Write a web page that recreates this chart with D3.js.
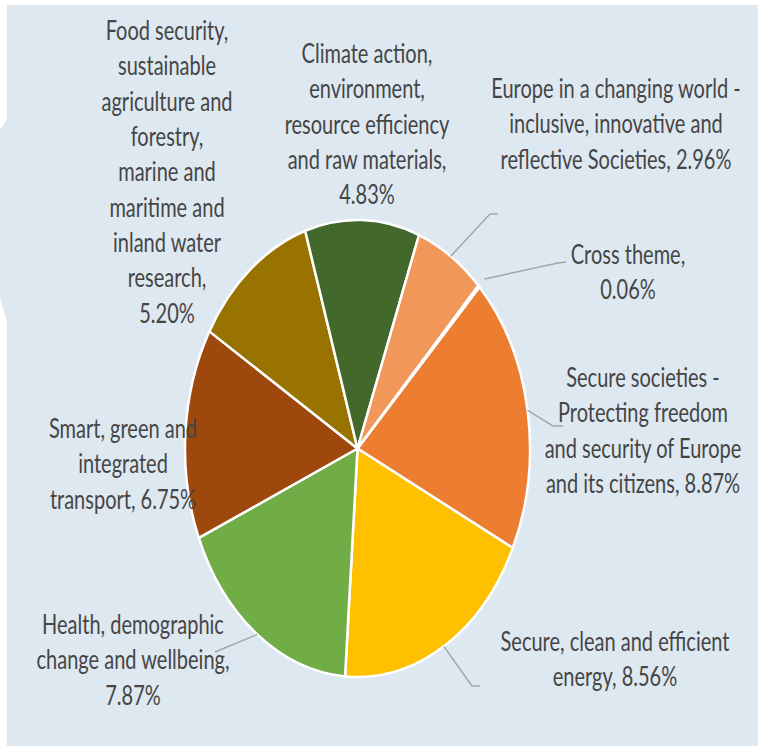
<!DOCTYPE html>
<html>
<head>
<meta charset="utf-8">
<script src="https://cdn.jsdelivr.net/npm/d3@7"></script>
<style>
  body { margin: 0; background: #fff; }
  svg { display: block; }
  text { font-family: Lato, "Noto Sans", sans-serif; fill: #454545; }
</style>
</head>
<body>
<svg id="chart"></svg>
<script>
const width = 760;
const height = 749;

// slices in clockwise order, starting from the first slice angle
const themes = [
    "Secure societies - Protecting freedom and security of Europe and its citizens",
    "Secure, clean and efficient energy",
    "Health, demographic change and wellbeing",
    "Smart, green and integrated transport",
    "Food security, sustainable agriculture and forestry, marine and maritime and inland water research",
    "Climate action, environment, resource efficiency and raw materials",
    "Europe in a changing world - inclusive, innovative and reflective Societies",
    "Cross theme"
];
const shares = [8.87, 8.56, 7.87, 6.75, 5.20, 4.83, 2.96, 0.06];
const colors = ["#ed7d31", "#ffc000", "#70ad47", "#9e480e", "#997300", "#43682b", "#f1975a", "#ffcd33"];

// label text as wrapped in the chart
const labelLines = [
    ["Secure societies -", "Protecting freedom", "and security of Europe", "and its citizens, 8.87%"],
    ["Secure, clean and efficient", "energy, 8.56%"],
    ["Health, demographic", "change and wellbeing,", "7.87%"],
    ["Smart, green and", "integrated", "transport, 6.75%"],
    ["Food security,", "sustainable", "agriculture and", "forestry,", "marine and", "maritime and", "inland water", "research,", "5.20%"],
    ["Climate action,", "environment,", "resource efficiency", "and raw materials,", "4.83%"],
    ["Europe in a changing world -", "inclusive, innovative and", "reflective Societies, 2.96%"],
    ["Cross theme,", "0.06%"]
];

// label layout: centre x, first line y
const labelPos = [[643, 377], [615, 641], [133, 624], [123, 428], [167, 30], [367, 53], [616, 88], [628, 254]];
// leader line elbows (null = no leader)
const leaderEnds = [
    [[553, 426], [563, 426]],
    [[472, 686], [480, 686]],
    [[215, 652]],
    null, null, null,
    [[490, 214], [498, 214]],
    [[558, 263], [566, 262]]
];

const cx = 357.5, cy = 448.5, rx = 172.5, ry = 228.5;
const sy = ry / rx;
const lineGap = 35.3;

const svg = d3.select("#chart")
    .attr("width", width)
    .attr("height", height);

// panel background with the little notch on the left edge
svg.append("path")
    .attr("d", "M7,5 L758,5 L758,746 L7,746 L7,323 L0,297 L0,130 L7,119 Z")
    .attr("fill", "#dee8f1");

const pie = d3.pie()
    .sort(null)
    .startAngle(45 * Math.PI / 180)
    .endAngle(405 * Math.PI / 180);

const arc = d3.arc().innerRadius(0).outerRadius(rx);

const arcs = pie(shares);

const pieGroup = svg.append("g")
    .attr("transform", `translate(${cx},${cy}) scale(1,${sy})`);

pieGroup.selectAll("path")
    .data(arcs)
    .enter().append("path")
    .attr("d", arc)
    .attr("fill", (d, i) => colors[i])
    .attr("stroke", "#fff")
    .attr("stroke-width", 2.5)
    .attr("stroke-linejoin", "round")
    .attr("vector-effect", "non-scaling-stroke");

// leader lines
const edgePoint = (d, k) => {
    const a = (d.startAngle + d.endAngle) / 2;
    return [cx + rx * k * Math.sin(a), cy - ry * k * Math.cos(a)];
};

svg.append("g").selectAll("polyline")
    .data(arcs.filter((d, i) => leaderEnds[i]))
    .enter().append("polyline")
    .attr("points", d => [edgePoint(d, d.index === 7 ? 1.045 : 1.0), ...leaderEnds[d.index]].map(p => p.join(",")).join(" "))
    .attr("fill", "none")
    .attr("stroke", "#a6a6a6")
    .attr("stroke-width", 1.5);

// labels
const labels = svg.append("g");
labelLines.forEach((lines, i) => {
    const [x, y0] = labelPos[i];
    lines.forEach((t, j) => {
        labels.append("text")
            .attr("transform", `translate(${x},${y0 + j * lineGap}) scale(1,${sy})`)
            .attr("text-anchor", "middle")
            .attr("dominant-baseline", "central")
            .attr("font-size", 20)
            .text(t);
    });
});
</script>
</body>
</html>
